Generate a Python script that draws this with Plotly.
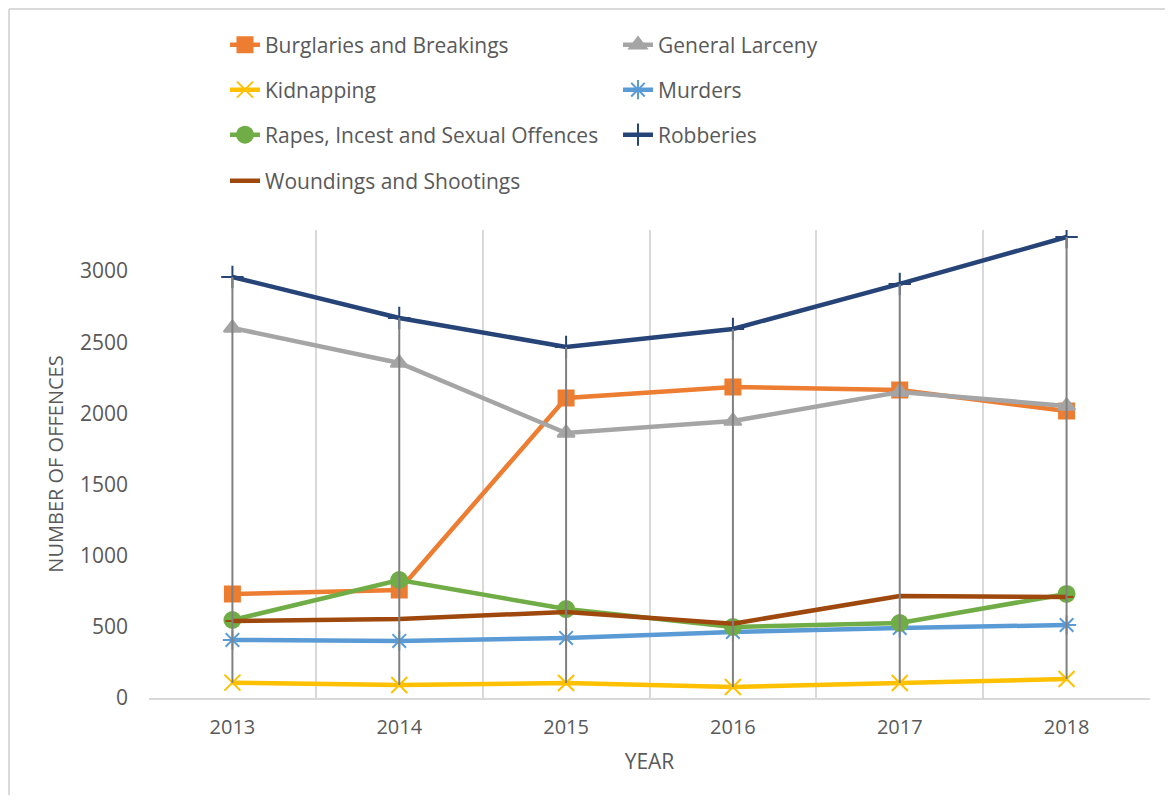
import plotly.graph_objects as go

years = [2013, 2014, 2015, 2016, 2017, 2018]
year_labels = ["2013", "2014", "2015", "2016", "2017", "2018"]

burglaries = [731, 759, 2108, 2185, 2164, 2016]
larceny = [2600, 2354, 1862, 1946, 2150, 2052]
kidnapping = [108, 91, 105, 77, 105, 133]
murders = [408, 401, 422, 464, 492, 513]
rapes = [548, 829, 625, 499, 527, 731]
robberies = [2958, 2670, 2466, 2593, 2909, 3239]
woundings = [541, 555, 604, 522, 717, 710]

names = ["Burglaries and Breakings", "General Larceny", "Kidnapping", "Murders",
         "Rapes, Incest and Sexual Offences", "Robberies", "Woundings and Shootings"]
series = [burglaries, larceny, kidnapping, murders, rapes, robberies, woundings]
colors = ["#ED7D31", "#A5A5A5", "#FFC000", "#5B9BD5", "#70AD47", "#264478", "#9E480E"]
symbols = ["square", "triangle-up", "x-thin-open", "asterisk-open", "circle",
           "cross-thin-open", "line-ew-open"]
sizes = [15, 15, 16, 16, 16, 16, 10]
legend_ids = ["legend", "legend", "legend2", "legend2", "legend3", "legend3", "legend4"]

fig = go.Figure()
for name, vals, col, sym, sz, lg in zip(names, series, colors, symbols, sizes, legend_ids):
    fig.add_trace(go.Scatter(
        x=years, y=vals, name=name, mode="lines+markers",
        line=dict(color=col, width=4.5),
        marker=dict(symbol=sym, size=sz, color=col, line=dict(color=col, width=2)),
        legend=lg,
    ))

# high-low lines
hx, hy = [], []
for i, yr in enumerate(years):
    col_vals = [s[i] for s in series]
    hx += [yr, yr, None]
    hy += [min(col_vals), max(col_vals), None]
fig.add_trace(go.Scatter(x=hx, y=hy, mode="lines", line=dict(color="#808080", width=2),
                         showlegend=False, hoverinfo="skip"))

OFF = 8  # page body margin
W, H = 1173 - 2 * OFF, 803 - 2 * OFF
L, R, T, B = 149, 1150, 230, 698  # target screen pixels

def px(xp):
    return (xp - L) / (R - L)

def py(yp):
    return (B - yp) / (B - T)

font_family = "Open Sans, Liberation Sans, sans-serif"
legend_common = dict(orientation="h", font=dict(size=21, color="#595959", family=font_family),
                     entrywidth=348, entrywidthmode="pixels", bgcolor="rgba(0,0,0,0)",
                     xanchor="left", yanchor="middle", itemwidth=30)

fig.update_layout(
    width=W, height=H,
    margin=dict(l=L - OFF, r=W - (R - OFF), t=T - OFF, b=H - (B - OFF)),
    paper_bgcolor="white", plot_bgcolor="white",
    font=dict(family=font_family, color="#595959"),
    legend=dict(x=px(225), y=py(45), **legend_common),
    legend2=dict(x=px(225), y=py(90), **legend_common),
    legend3=dict(x=px(225), y=py(135), **legend_common),
    legend4=dict(x=px(225), y=py(181), **legend_common),
    xaxis=dict(
        range=[2012.5, 2018.5], tickvals=years, ticktext=year_labels,
        showgrid=False, zeroline=False,
        showline=True, linecolor="#d9d9d9", linewidth=2,
        tickfont=dict(size=20, color="#595959"), ticks="", ticklabelstandoff=10,
        minor=dict(showgrid=True, tick0=2012.5, dtick=1, gridcolor="#d9d9d9", gridwidth=1.5),
        title=dict(text="YEAR", font=dict(size=21, color="#595959"), standoff=15),
    ),
    yaxis=dict(
        range=[0, 3288], tickvals=[0, 500, 1000, 1500, 2000, 2500, 3000],
        showgrid=False, zeroline=False, showline=False,
        tickfont=dict(size=21, color="#595959"), ticks="", ticklabelstandoff=20,
        title=dict(text="NUMBER OF OFFENCES", font=dict(size=20, color="#595959"), standoff=10),
    ),
    shapes=[
        dict(type="line", xref="paper", yref="paper", x0=px(9), x1=px(9), y0=py(9), y1=py(803),
             line=dict(color="#d9d9d9", width=2)),
        dict(type="line", xref="paper", yref="paper", x0=px(9), x1=px(1173), y0=py(9), y1=py(9),
             line=dict(color="#d9d9d9", width=2)),
    ],
)

fig.write_html("out.html")
